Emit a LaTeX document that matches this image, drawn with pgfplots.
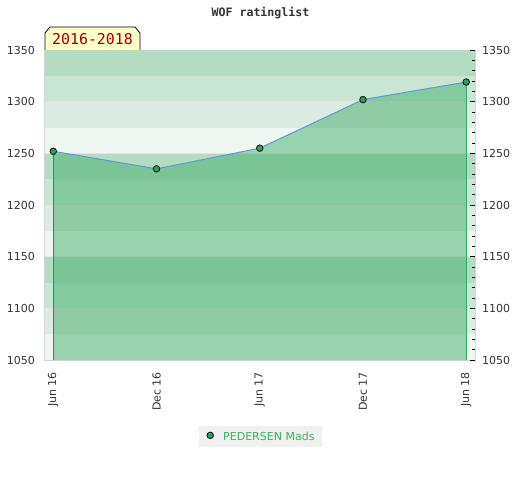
\documentclass[border=0pt]{standalone}
\usepackage{fontspec}
\setmainfont{DejaVu Sans}
\newfontfamily\monofont{DejaVu Sans Mono}
\usepackage{pgfplots}
\pgfplotsset{compat=1.18}
\definecolor{bandA}{HTML}{EFF7F2}
\definecolor{bandB}{HTML}{DBEDE2}
\definecolor{bandC}{HTML}{C8E6D3}
\definecolor{bandD}{HTML}{B3DCC2}
\definecolor{areacol}{HTML}{3DAA65}
\definecolor{linecol}{HTML}{5B9BD5}
\definecolor{markcol}{HTML}{2E9E5B}
\definecolor{legtext}{HTML}{3CB060}
\definecolor{ticktext}{HTML}{333333}
\definecolor{frame}{HTML}{D4D4D4}
\definecolor{gridcol}{HTML}{E2E6E3}
\definecolor{dropL}{HTML}{2E8B57}
\definecolor{dropR}{HTML}{33AA55}
\definecolor{boxyellow}{HTML}{FFFFCC}
\definecolor{boxred}{HTML}{990000}
\definecolor{legbg}{HTML}{F0F0F0}
\begin{document}
\begin{tikzpicture}[x=1pt,y=1pt]
\path[use as bounding box] (0,0) rectangle (520,480);
\begin{axis}[
  at={(45pt,120pt)}, anchor=south west,
  scale only axis, width=430pt, height=310pt,
  xmin=-0.08, xmax=4.085, ymin=1050, ymax=1350,
  xtick={0,1,2,3,4},
  xticklabels={Jun 16,Dec 16,Jun 17,Dec 17,Jun 18},
  x tick label style={rotate=90, anchor=east, inner sep=0pt,
    font=\fontsize{11}{12}\selectfont, text=ticktext},
  xticklabel shift=12pt,
  ytick={1050,1100,...,1350},
  y tick label style={inner sep=0pt, font=\fontsize{11}{12}\selectfont, text=ticktext},
  yticklabel shift=10pt,
  /pgf/number format/assume math mode=true,
  /pgf/number format/1000 sep={},
  major tick length=0pt,
  axis line style={draw=frame, line width=1pt},
  legend style={at={(0.502,-0.248)}, anchor=center, fill=legbg, draw=none,
    font=\fontsize{11}{12}\selectfont, text=legtext, inner xsep=6pt, inner ysep=3.5pt},
  legend image code/.code={\path[draw=none, fill=none] (0pt,-3pt) rectangle (16pt,3pt);
    \draw[#1, mark size=3.3pt] plot coordinates {(5pt,1.5pt)};},
]
% background bands
\fill[bandA] (axis cs:-1,1050) rectangle (axis cs:5,1075);
\fill[bandB] (axis cs:-1,1075) rectangle (axis cs:5,1100);
\fill[bandC] (axis cs:-1,1100) rectangle (axis cs:5,1125);
\fill[bandD] (axis cs:-1,1125) rectangle (axis cs:5,1150);
\fill[bandA] (axis cs:-1,1150) rectangle (axis cs:5,1175);
\fill[bandB] (axis cs:-1,1175) rectangle (axis cs:5,1200);
\fill[bandC] (axis cs:-1,1200) rectangle (axis cs:5,1225);
\fill[bandD] (axis cs:-1,1225) rectangle (axis cs:5,1250);
\fill[bandA] (axis cs:-1,1250) rectangle (axis cs:5,1275);
\fill[bandB] (axis cs:-1,1275) rectangle (axis cs:5,1300);
\fill[bandC] (axis cs:-1,1300) rectangle (axis cs:5,1325);
\fill[bandD] (axis cs:-1,1325) rectangle (axis cs:5,1350);
\draw[gridcol, line width=1pt] (axis cs:-1,1100) -- (axis cs:5,1100);
\draw[gridcol, line width=1pt] (axis cs:-1,1150) -- (axis cs:5,1150);
\draw[gridcol, line width=1pt] (axis cs:-1,1200) -- (axis cs:5,1200);
\draw[gridcol, line width=1pt] (axis cs:-1,1250) -- (axis cs:5,1250);
\draw[gridcol, line width=1pt] (axis cs:-1,1300) -- (axis cs:5,1300);
% area
\addplot[forget plot, draw=none, fill=areacol, fill opacity=0.48]
  coordinates {(0,1252) (1,1235) (2,1255) (3,1302) (4,1319)} \closedcycle;
\addplot[forget plot, dropL, line width=1pt] coordinates {(0,1050) (0,1252)};
\addplot[forget plot, dropR, line width=1pt] coordinates {(4,1050) (4,1319)};
\addplot[linecol, line width=1pt, mark=*, mark size=3.3pt,
  mark options={fill=markcol, draw=black, line width=0.7pt}]
  coordinates {(0,1252) (1,1235) (2,1255) (3,1302) (4,1319)};
\addlegendentry{PEDERSEN Mads}
\end{axis}
\begin{axis}[
  at={(45pt,120pt)}, anchor=south west,
  scale only axis, width=430pt, height=310pt,
  xmin=-0.08, xmax=4.085, ymin=1050, ymax=1350,
  axis x line=none, axis y line*=right,
  y axis line style={draw=none},
  ytick={1050,1100,...,1350}, minor tick num=4,
  tick align=inside, major tick length=5pt, minor tick length=3pt,
  every tick/.style={black, line width=0.8pt},
  y tick label style={inner sep=0pt, anchor=west, font=\fontsize{11}{12}\selectfont, text=ticktext},
  yticklabel shift=7pt,
  /pgf/number format/assume math mode=true,
  /pgf/number format/1000 sep={},
]
\addplot[draw=none, forget plot] coordinates {(0,1050) (4,1350)};
\end{axis}
\node[font=\monofont\bfseries\fontsize{11.6}{13}\selectfont, text=ticktext] at (260.5,467) {WOF ratinglist};
\draw[fill=boxyellow, draw=black, line width=0.8pt]
  (45,430) -- (45,447) -- (50,453) -- (135,453) -- (140,447) -- (140,430);
\node[font=\monofont\fontsize{14.9}{16}\selectfont, text=boxred] at (92.5,440.5) {2016-2018};
\end{tikzpicture}
\end{document}
